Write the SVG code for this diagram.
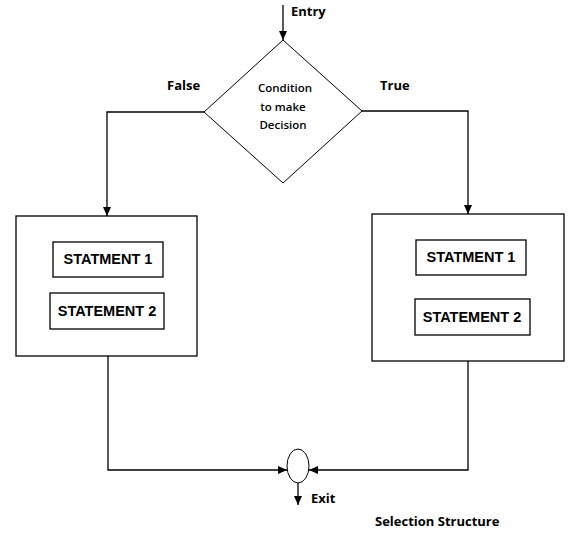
<svg xmlns="http://www.w3.org/2000/svg" width="572" height="540" viewBox="0 0 572 540">
<style>
.ln{fill:none;stroke:#000;stroke-width:1.3}
.bx{fill:#fff;stroke:#000;stroke-width:1.3}
.lb{font-family:"Open Sans","Liberation Sans",sans-serif;font-weight:bold;font-size:13px;fill:#000}
.ct{font-family:"Open Sans","Liberation Sans",sans-serif;font-weight:600;font-size:11.5px;fill:#000;text-anchor:middle}
.st{font-family:"Liberation Sans",Arial,sans-serif;font-weight:bold;font-size:14.5px;fill:#000;text-anchor:middle}
</style>
<defs>
<marker id="ah" markerWidth="10" markerHeight="10" refX="9" refY="5" orient="auto" markerUnits="userSpaceOnUse">
<path d="M0,1 L9,5 L0,9 Z" fill="#000"/>
</marker>
</defs>
<rect width="572" height="540" fill="#fff"/>
<g id="connectors">
<line class="ln" x1="283" y1="5" x2="283" y2="40" marker-end="url(#ah)"/>
<polyline class="ln" points="204,112 107,112 107,216" marker-end="url(#ah)"/>
<polyline class="ln" points="362,111 468,111 468,214" marker-end="url(#ah)"/>
<polyline class="ln" points="108,356 108,470 287,470" marker-end="url(#ah)"/>
<polyline class="ln" points="468,361 468,470 309,470" marker-end="url(#ah)"/>
<line class="ln" x1="298" y1="483" x2="298" y2="505" marker-end="url(#ah)"/>
</g>
<g id="entry-label"><text class="lb" x="291" y="16">Entry</text></g>
<g id="decision">
<polygon points="283,40 362,111 283,183 204,112" fill="#fff" stroke="#000" stroke-width="1"/>
<text class="ct" x="285" y="92">Condition</text>
<text class="ct" x="283" y="111">to make</text>
<text class="ct" x="283" y="129">Decision</text>
</g>
<g id="false-label"><text class="lb" x="167" y="90">False</text></g>
<g id="true-label"><text class="lb" x="380" y="90">True</text></g>
<g id="false-block">
<rect class="bx" x="16" y="216" width="181" height="140"/>
<rect class="bx" x="53" y="242" width="110" height="35"/>
<text class="st" x="108" y="264">STATMENT 1</text>
<rect class="bx" x="50" y="293" width="114" height="36"/>
<text class="st" x="107" y="316">STATEMENT 2</text>
</g>
<g id="true-block">
<rect class="bx" x="372" y="214" width="192" height="147"/>
<rect class="bx" x="416" y="240" width="110" height="35"/>
<text class="st" x="471" y="262">STATMENT 1</text>
<rect class="bx" x="415" y="299" width="115" height="36"/>
<text class="st" x="472" y="322">STATEMENT 2</text>
</g>
<g id="junction">
<ellipse cx="298" cy="466" rx="11" ry="17" fill="#fff" stroke="#000" stroke-width="1"/>
</g>
<g id="exit-label"><text class="lb" x="311" y="503">Exit</text></g>
<g id="caption"><text class="lb" x="375" y="526">Selection Structure</text></g>
</svg>
